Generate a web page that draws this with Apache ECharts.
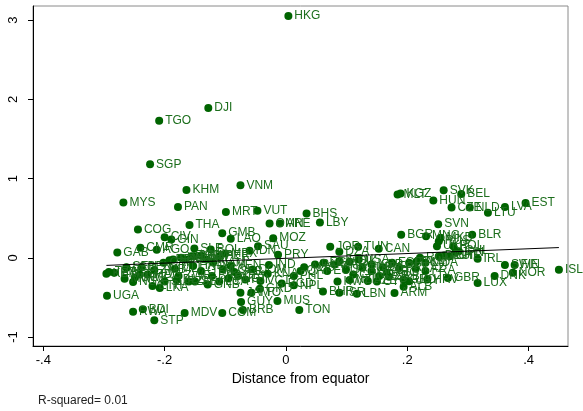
<!DOCTYPE html>
<html>
<head>
<meta charset="utf-8">
<script src="https://cdn.jsdelivr.net/npm/echarts@6/dist/echarts.min.js"></script>
<style>
  html, body { margin: 0; padding: 0; background: #fff; }
  #chart { width: 583px; height: 411px; }
</style>
</head>
<body>
<div id="chart"></div>
<script>
// country codes, distance from equator (x) and residual (y)
const codes = ['HKG','DJI','TGO','SGP','VNM','KHM','MYS','PAN','MRT','VUT','BHS','LBY','OMN','ARE','THA','COG','GMB','MOZ','LAO','CIV',
  'GIN','GAB','CMR','AGO','SLE','BOL','MEX','SAU','IDN','PRY','JOR','TUN','CAN','DZA','IND','IRL','BLR','BGR','MNG','SVN',
  'SVK','BEL','HUN','MLT','KGZ','CZE','NLD','LTU','LVA','EST','ISL','SWE','FIN','NOR','DNK','LUX','GBR','HRV','FRA','ARM',
  'ALB','LBN','ISR','BHR','NPL','BGD','MUS','TON','BRB','GUY','COM','MDV','STP','RWA','BDI','UGA','ETH','LKA','KEN','TZA',
  'NGA','SEN','MWI','BEN','GHA','ZMB','CAF','BFA','MLI','ZWE','NER','TCD','HND','GTM','NIC','GNB','BRA','PER','COL','VEN',
  'CRI','FJI','DOM','VCT','JAM','TTO','GRD','PHL','QAT','PAK','EGY','ECU','MAR','IRQ','SYR','CHN','USA','TUR','AZE','KOR',
  'GRC','UZB','ARG','ESP','PRT','GEO','ITA','KAZ','ROM','MDA','DEU','AUT','CHE','JPN','UKR','RUS','MKD','POL','CHL','URY',
  'KWT','HTI','LSO','SWZ','MDG','SDN','YEM','LBR','BWA','NAM','SLV','AUS','NZL','CYP','SRB','BIH','TKM','TJK','PNG','SLB',
  'BLZ','SUR','ZAF','LCA','KNA'];
const distEq = [0.004,-0.128,-0.209,-0.224,-0.075,-0.164,-0.268,-0.178,-0.099,-0.047,0.034,0.056,-0.027,-0.010,-0.159,-0.244,-0.105,-0.021,-0.091,-0.200,
  -0.189,-0.278,-0.240,-0.213,-0.151,-0.124,-0.100,-0.046,-0.060,-0.013,0.073,0.119,0.153,0.088,-0.028,0.316,0.307,0.190,0.231,0.251,
  0.260,0.289,0.243,0.184,0.189,0.273,0.303,0.333,0.361,0.395,0.450,0.361,0.377,0.374,0.344,0.316,0.267,0.233,0.230,0.179,
  0.194,0.117,0.088,0.061,0.013,-0.007,-0.014,0.022,-0.071,-0.074,-0.105,-0.167,-0.217,-0.252,-0.236,-0.295,-0.220,-0.208,-0.296,-0.292,
  -0.252,-0.263,-0.266,-0.238,-0.241,-0.217,-0.202,-0.192,-0.183,-0.177,-0.165,-0.156,-0.153,-0.140,-0.131,-0.129,-0.122,-0.110,-0.104,-0.091,
  -0.079,-0.067,-0.055,-0.042,-0.075,-0.057,-0.043,0.013,0.024,0.048,0.062,0.068,0.080,0.088,0.099,0.111,0.120,0.126,0.135,0.141,
  0.141,0.154,0.166,0.175,0.187,0.194,0.203,0.214,0.221,0.230,0.252,0.261,0.270,0.279,0.249,0.252,0.255,0.276,0.285,0.203,
  0.085,-0.283,-0.263,-0.249,-0.228,-0.186,-0.173,-0.151,-0.140,-0.120,-0.150,0.030,0.105,0.150,0.170,0.160,0.215,0.105,-0.095,-0.085,
  -0.180,-0.200,-0.160,-0.110,-0.030];
const resid = [3.05,1.89,1.73,1.18,0.915,0.856,0.697,0.642,0.579,0.592,0.558,0.445,0.432,0.432,0.415,0.357,0.311,0.248,0.239,0.260,
  0.231,0.067,0.126,0.100,0.118,0.105,0.055,0.147,0.090,0.038,0.138,0.138,0.113,0.076,-0.092,-0.013,0.290,0.290,0.273,0.424,
  0.852,0.806,0.722,0.800,0.810,0.634,0.634,0.567,0.642,0.692,-0.151,-0.092,-0.092,-0.189,-0.231,-0.319,-0.256,-0.273,-0.168,-0.445,
  -0.365,-0.453,-0.440,-0.424,-0.348,-0.323,-0.546,-0.659,-0.660,-0.559,-0.697,-0.697,-0.789,-0.680,-0.650,-0.478,-0.357,-0.382,-0.200,-0.180,
  -0.306,-0.118,-0.264,-0.118,-0.210,-0.155,-0.063,-0.030,-0.138,-0.231,-0.021,0.021,-0.105,-0.168,-0.021,-0.336,-0.231,0.021,-0.147,-0.105,
  -0.231,-0.273,-0.147,-0.294,-0.440,-0.440,-0.390,-0.231,-0.168,-0.084,-0.063,-0.168,-0.084,-0.042,-0.147,-0.210,-0.021,-0.126,-0.294,-0.084,
  -0.168,-0.231,-0.189,-0.063,-0.126,-0.273,-0.063,-0.138,0.000,-0.063,0.021,0.029,0.021,0.063,0.147,0.210,0.252,0.147,0.084,-0.295,
  -0.300,-0.189,-0.126,-0.250,-0.210,-0.020,0.000,0.020,0.030,-0.060,-0.300,-0.120,-0.280,-0.300,-0.240,-0.120,-0.050,-0.050,-0.260,-0.180,
  -0.280,-0.300,-0.300,-0.300,-0.200];

// fitted line end points
const fitX = [-0.296, 0.450];
const fitY = [-0.096, 0.129];

const xTicks = [-0.4, -0.2, 0, 0.2, 0.4];
const xTickLabels = ['-.4', '-.2', '0', '.2', '.4'];
const yTicks = [-1, 0, 1, 2, 3];
const yTickLabels = ['-1', '0', '1', '2', '3'];

const green = '#006400';
const font = 'Liberation Sans, Arial, sans-serif';

let points = [];
for (let i = 0; i < codes.length; i++) {
    points.push({ value: [distEq[i], resid[i]], name: codes[i] });
}
let fitLine = [];
for (let i = 0; i < fitX.length; i++) {
    fitLine.push([fitX[i], fitY[i]]);
}

function tickName (ticks, labels) {
    return (v) => {
        for (let i = 0; i < ticks.length; i++) {
            if (Math.abs(ticks[i] - v) < 1e-9) return labels[i];
        }
        return '';
    };
}

let chart = echarts.init(document.getElementById('chart'));
chart.setOption({
    animation: false,
    backgroundColor: '#fff',
    textStyle: { fontFamily: font },
    title: {
        text: 'R-squared= 0.01',
        left: 33,
        top: 390,
        textStyle: { fontSize: 12, fontWeight: 'normal', color: '#222', fontFamily: font }
    },
    grid: {
        left: 33, right: 15, top: 6, bottom: 65,
        show: true, borderColor: '#8a8a8a', borderWidth: 1
    },
    xAxis: {
        type: 'value',
        min: -0.417,
        max: 0.465,
        name: 'Distance from equator',
        nameLocation: 'middle',
        nameGap: 23,
        nameTextStyle: { fontSize: 14, color: '#000', fontFamily: font },
        axisLine: { onZero: false, lineStyle: { color: '#000', width: 1 } },
        axisTick: { length: 5, customValues: xTicks, lineStyle: { color: '#000' } },
        axisLabel: { customValues: xTicks, formatter: tickName(xTicks, xTickLabels), fontSize: 13, color: '#000', margin: 8 },
        splitLine: { show: false }
    },
    yAxis: {
        type: 'value',
        min: -1.113,
        max: 3.177,
        axisLine: { show: true, onZero: false, lineStyle: { color: '#000', width: 1 } },
        axisTick: { show: true, length: 5, customValues: yTicks, lineStyle: { color: '#000' } },
        axisLabel: { customValues: yTicks, formatter: tickName(yTicks, yTickLabels), fontSize: 13, color: '#000', rotate: 90, margin: 13 },
        splitLine: { show: false }
    },
    series: [
        {
            type: 'scatter',
            data: points,
            symbolSize: 8,
            itemStyle: { color: green, opacity: 1 },
            label: {
                show: true,
                position: 'right',
                distance: 2,
                formatter: (p) => p.name,
                fontSize: 12,
                color: '#1c6e1c',
                fontFamily: font
            },
            z: 3
        },
        {
            type: 'line',
            data: fitLine,
            symbol: 'none',
            lineStyle: { color: '#000', width: 1 },
            z: 4
        }
    ]
});
</script>
</body>
</html>
